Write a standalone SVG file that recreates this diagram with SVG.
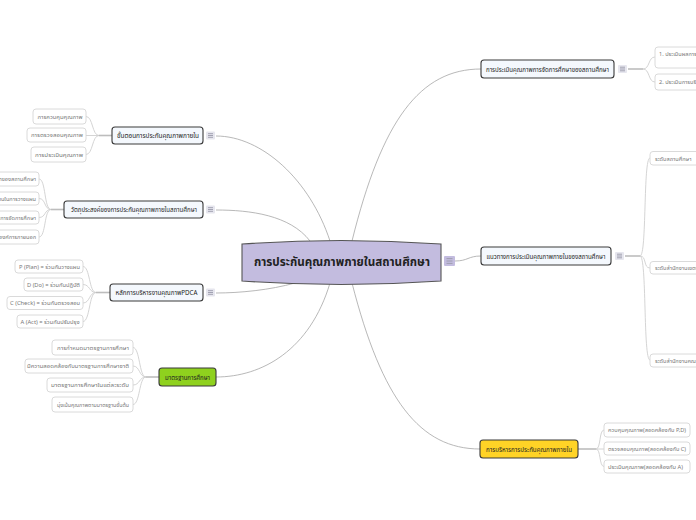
<svg xmlns="http://www.w3.org/2000/svg" width="696" height="520" viewBox="0 0 696 520">
<style>
text{font-family:"Noto Sans Thai","Noto Sans","DejaVu Sans",sans-serif}
.main{fill:#f4f8fd;stroke:#3a3a3a;stroke-width:1.1}
.mt{font-size:6.6px;fill:#222}
.ch{fill:#fff;stroke:#d6d6d6;stroke-width:0.9}
.ct{font-size:5.6px;fill:#777}
.c0{fill:none;stroke:#a6a6a6;stroke-width:0.8}
.c1{fill:none;stroke:#bdbdbd;stroke-width:1.6}
.c2{fill:none;stroke:#cfcfcf;stroke-width:0.9}
.ic rect{fill:#e6e6ee}
.ic path{stroke:#9a9aaa;stroke-width:0.9}
</style>
<defs>
<g id="menu" class="ic"><rect x="0" y="0" width="9" height="8" rx="1"/><path d="M2,2.2H7M2,4H7M2,5.8H7"/></g>
</defs>
<rect width="696" height="520" fill="#fff"/>
<g id="connectors">
<path class="c0" d="M330,241 C310,180 262,136 216,136"/>
<path class="c0" d="M310,241 C290,215 250,210 216,210"/>
<path class="c0" d="M295,283 C270,290 240,293 216,293"/>
<path class="c0" d="M330,283 C310,350 262,377 216,377"/>
<path class="c0" d="M352,241 C382,120 420,69 481,69"/>
<path class="c0" d="M455,261 C468,261 468,256 481,256"/>
<path class="c0" d="M352,283 C382,400 420,449 480,449"/>
<path class="c1" d="M112,135.5H99"/>
<path class="c2" d="M99,135.5 C92,135.5 93,116.5 86,116.5M99,135.5H86M99,135.5 C92,135.5 93,154.5 86,154.5"/>
<path class="c1" d="M64,209.5H51"/>
<path class="c2" d="M51,209.5 C44,209.5 46,179 39,179M51,209.5 C44,209.5 46,198.5 39,198.5M51,209.5 C44,209.5 46,217.5 39,217.5M51,209.5 C44,209.5 46,237 39,237"/>
<path class="c1" d="M110,292.5H96"/>
<path class="c2" d="M96,292.5 C89,292.5 90,266.5 83,266.5M96,292.5 C89,292.5 90,284.5 83,284.5M96,292.5 C89,292.5 90,303 83,303M96,292.5 C89,292.5 90,321.5 83,321.5"/>
<path class="c1" d="M159,377H146"/>
<path class="c2" d="M146,377 C139,377 140,347.5 133,347.5M146,377 C139,377 140,366 133,366M146,377 C139,377 140,385 133,385M146,377 C139,377 140,404.5 133,404.5"/>
<path class="c1" d="M628,69H643"/>
<path class="c2" d="M643,69 C650,69 648,57 655,57M643,69 C650,69 648,82 655,82"/>
<path class="c1" d="M625,256H640"/>
<path class="c2" d="M640,256 C647,256 643,158 650,158M640,256 C647,256 643,268 650,268M640,256 C647,256 643,360 650,360"/>
<path class="c1" d="M578,449H596"/>
<path class="c2" d="M596,449 C601,449 599,430 604,430M596,449H604M596,449 C601,449 599,466.5 604,466.5"/>
</g>
<g id="center">
<path d="M242,244 Q341,237 441,244 L441,281 Q341,288 242,281 Z" fill="#c3bcdf" stroke="#555" stroke-width="1.1"/>
<text x="342" y="266" text-anchor="middle" font-size="12" font-weight="bold" fill="#222" textLength="176" lengthAdjust="spacingAndGlyphs">การประกันคุณภาพภายในสถานศึกษา</text>
<g class="ic"><rect x="444" y="256" width="11" height="10" rx="1" fill="#c3bcdf" style="fill:#c3bcdf"/><path d="M446.5,258.6H452.5M446.5,261H452.5M446.5,263.4H452.5"/></g>
</g>
<g id="n_steps">
<rect class="main" x="112" y="127" width="91" height="17" rx="3"/>
<text class="mt" x="158" y="138" text-anchor="middle" textLength="82" lengthAdjust="spacingAndGlyphs">ขั้นตอนการประกันคุณภาพภายใน</text>
<use href="#menu" x="206" y="131.5"/>
</g>
<g id="n_steps_c">
<rect class="ch" x="33" y="109" width="53" height="15" rx="3"/>
<text class="ct" x="60" y="118.5" text-anchor="middle" textLength="45" lengthAdjust="spacingAndGlyphs">การควบคุมคุณภาพ</text>
<rect class="ch" x="27" y="128" width="59" height="14" rx="3"/>
<text class="ct" x="57" y="137" text-anchor="middle" textLength="52" lengthAdjust="spacingAndGlyphs">การตรวจสอบคุณภาพ</text>
<rect class="ch" x="31" y="147" width="55" height="15" rx="3"/>
<text class="ct" x="59" y="156.5" text-anchor="middle" textLength="48" lengthAdjust="spacingAndGlyphs">การประเมินคุณภาพ</text>
</g>
<g id="n_obj">
<rect class="main" x="64" y="201" width="139" height="17" rx="3"/>
<text class="mt" x="134" y="212" text-anchor="middle" textLength="126" lengthAdjust="spacingAndGlyphs">วัตถุประสงค์ของการประกันคุณภาพภายในสถานศึกษา</text>
<use href="#menu" x="206" y="205.5"/>
</g>
<g id="n_obj_c">
<rect class="ch" x="-40" y="172" width="79" height="14" rx="3"/>
<text class="ct" x="36" y="181" text-anchor="end">พัฒนาคุณภาพการศึกษาของสถานศึกษา</text>
<rect class="ch" x="-40" y="192" width="79" height="13" rx="3"/>
<text class="ct" x="36" y="200.5" text-anchor="end">เป็นข้อมูลพื้นฐานในการวางแผน</text>
<rect class="ch" x="-40" y="211" width="79" height="13" rx="3"/>
<text class="ct" x="36" y="219.5" text-anchor="end">พัฒนาคุณภาพการจัดการศึกษา</text>
<rect class="ch" x="-40" y="230" width="79" height="14" rx="3"/>
<text class="ct" x="36" y="239" text-anchor="end">รองรับการประเมินจากองค์การภายนอก</text>
</g>
<g id="n_pdca">
<rect class="main" x="110" y="284" width="93" height="17" rx="3"/>
<text class="mt" x="156.5" y="295" text-anchor="middle" textLength="82" lengthAdjust="spacingAndGlyphs">หลักการบริหารงานคุณภาพPDCA</text>
<use href="#menu" x="206" y="288.5"/>
</g>
<g id="n_pdca_c">
<rect class="ch" x="15" y="260" width="68" height="13" rx="3"/>
<text class="ct" x="49.5" y="268.5" text-anchor="middle" textLength="61" lengthAdjust="spacingAndGlyphs">P (Plan) = ร่วมกันวางแผน</text>
<rect class="ch" x="24" y="278" width="59" height="13" rx="3"/>
<text class="ct" x="53.5" y="286.5" text-anchor="middle" textLength="53" lengthAdjust="spacingAndGlyphs">D (Do) = ร่วมกันปฏิบัติ</text>
<rect class="ch" x="7" y="296.5" width="76" height="13" rx="3"/>
<text class="ct" x="45" y="305" text-anchor="middle" textLength="70" lengthAdjust="spacingAndGlyphs">C (Check) = ร่วมกันตรวจสอบ</text>
<rect class="ch" x="17" y="315" width="66" height="13" rx="3"/>
<text class="ct" x="50" y="323.5" text-anchor="middle" textLength="59" lengthAdjust="spacingAndGlyphs">A (Act) = ร่วมกันปรับปรุง</text>
</g>
<g id="n_std">
<rect x="159" y="368" width="57" height="18" rx="3" fill="#8fd11e" stroke="#3a3a3a" stroke-width="1.1"/>
<text class="mt" x="187.5" y="379.5" text-anchor="middle" textLength="45" lengthAdjust="spacingAndGlyphs">มาตรฐานการศึกษา</text>
</g>
<g id="n_std_c">
<rect class="ch" x="52" y="340" width="81" height="15" rx="3"/>
<text class="ct" x="93" y="349.5" text-anchor="middle" textLength="72" lengthAdjust="spacingAndGlyphs">การกำหนดมาตรฐานการศึกษา</text>
<rect class="ch" x="25" y="359" width="108" height="14" rx="3"/>
<text class="ct" x="78" y="368" text-anchor="middle" textLength="102" lengthAdjust="spacingAndGlyphs">มีความสอดคล้องกับมาตรฐานการศึกษาชาติ</text>
<rect class="ch" x="47" y="378" width="86" height="14" rx="3"/>
<text class="ct" x="90" y="387" text-anchor="middle" textLength="78" lengthAdjust="spacingAndGlyphs">มาตรฐานการศึกษาในแต่ละระดับ</text>
<rect class="ch" x="52" y="397" width="81" height="15" rx="3"/>
<text class="ct" x="93" y="406.5" text-anchor="middle" textLength="72" lengthAdjust="spacingAndGlyphs">มุ่งเน้นคุณภาพตามมาตรฐานขั้นต้น</text>
</g>
<g id="n_eval">
<rect class="main" x="481" y="60" width="133" height="18" rx="3"/>
<text class="mt" x="547.5" y="71.5" text-anchor="middle" textLength="123" lengthAdjust="spacingAndGlyphs">การประเมินคุณภาพการจัดการศึกษาของสถานศึกษา</text>
<use href="#menu" x="618" y="65"/>
</g>
<g id="n_eval_c">
<rect class="ch" x="655" y="47" width="80" height="21" rx="3"/>
<text class="ct" x="659" y="56">1. ประเมินผลการจัดการศึกษา</text>
<rect class="ch" x="655" y="74" width="80" height="16" rx="3"/>
<text class="ct" x="659" y="84">2. ประเมินการบริหารจัดการ</text>
</g>
<g id="n_guide">
<rect class="main" x="481" y="247" width="130" height="18" rx="3"/>
<text class="mt" x="546" y="258.5" text-anchor="middle" textLength="119" lengthAdjust="spacingAndGlyphs">แนวทางการประเมินคุณภาพภายในของสถานศึกษา</text>
<use href="#menu" x="615" y="252"/>
</g>
<g id="n_guide_c">
<rect class="ch" x="650" y="151.5" width="80" height="13.5" rx="3"/>
<text class="ct" x="655" y="160.5">ระดับสถานศึกษา</text>
<rect class="ch" x="650" y="261.5" width="80" height="12.5" rx="3"/>
<text class="ct" x="655" y="270">ระดับสำนักงานเขตพื้นที่การศึกษา</text>
<rect class="ch" x="650" y="354" width="80" height="13" rx="3"/>
<text class="ct" x="655" y="362.5">ระดับสำนักงานคณะกรรมการการศึกษา</text>
</g>
<g id="n_admin">
<rect x="480" y="440" width="98" height="18" rx="3" fill="#ffd326" stroke="#3a3a3a" stroke-width="1.1"/>
<text class="mt" x="529" y="451.5" text-anchor="middle" textLength="86" lengthAdjust="spacingAndGlyphs">การบริหารการประกันคุณภาพภายใน</text>
</g>
<g id="n_admin_c">
<rect class="ch" x="604" y="423" width="86" height="14" rx="3"/>
<text class="ct" x="647" y="432" text-anchor="middle" textLength="78" lengthAdjust="spacingAndGlyphs">ควบคุมคุณภาพ(สอดคล้องกับ P,D)</text>
<rect class="ch" x="604" y="442" width="86" height="13" rx="3"/>
<text class="ct" x="647" y="450.5" text-anchor="middle" textLength="78" lengthAdjust="spacingAndGlyphs">ตรวจสอบคุณภาพ(สอดคล้องกับ C)</text>
<rect class="ch" x="604" y="460" width="86" height="13" rx="3"/>
<text class="ct" x="645.5" y="468.5" text-anchor="middle" textLength="75" lengthAdjust="spacingAndGlyphs">ประเมินคุณภาพ(สอดคล้องกับ A)</text>
</g>
</svg>
